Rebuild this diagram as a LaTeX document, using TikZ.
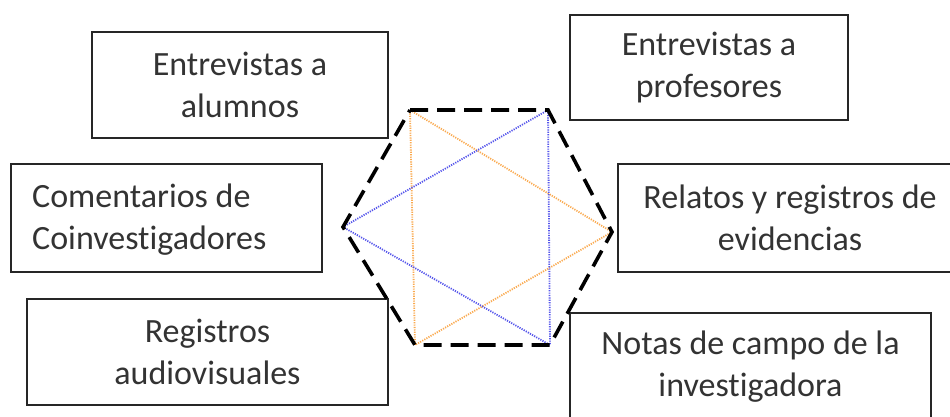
\documentclass[tikz,border=0pt]{standalone}
\usepackage{fontspec}
\setmainfont{Carlito}[Ligatures=NoCommon]
\begin{document}
\begin{tikzpicture}[x=1pt,y=-1pt,
  box/.style={draw=black!85, line width=1.8pt, inner sep=0pt, text=black!80,
    font=\fontsize{34}{42}\selectfont, align=center},
  hexline/.style={draw=black, line width=3.6pt, dash pattern=on 18pt off 9pt},
  otri/.style={draw={rgb,255:red,250;green,170;blue,80}, line width=1.8pt, dash pattern=on 1.2pt off 1.2pt},
  btri/.style={draw={rgb,255:red,85;green,85;blue,235}, line width=1.8pt, dash pattern=on 1.2pt off 1.2pt}]
\useasboundingbox (0,0) rectangle (950,416);
\clip (0,0) rectangle (950,416);
% boxes
\node[box, minimum width=296pt, minimum height=106pt] (alu) at (240,85) {Entrevistas a\\alumnos};
\node[box, minimum width=311pt, minimum height=108pt] (com) at (166.5,218) {};
\node[font=\fontsize{34}{42}\selectfont, text=black!80, align=left, anchor=west, inner sep=0pt] (comt) at (32,220) {Comentarios de\\Coinvestigadores};
\node[box, minimum width=361pt, minimum height=106pt] (reg) at (207.5,352) {Registros\\audiovisuales};
\node[box, minimum width=278pt, minimum height=105pt] (pro) at (709,67.5) {Entrevistas a\\profesores};
\node[box, minimum width=344pt, minimum height=108pt] (rel) at (790,218) {Relatos y registros de\\evidencias};
\node[box, minimum width=361pt, minimum height=107pt] (not) at (750.5,366.5) {Notas de campo de la\\investigadora};
% hexagon vertices
\coordinate (TL) at (410,110);
\coordinate (TR) at (548,110);
\coordinate (R) at (612,232);
\coordinate (BR) at (550,345);
\coordinate (BL) at (415,345);
\coordinate (L) at (343,227);
% triangles
\draw[otri] (TL) -- (R) -- (BL) -- cycle;
\draw[btri] (TR) -- (L) -- (BR) -- cycle;
% hexagon
\draw[hexline] (TL) -- (TR) -- (R) -- (BR) -- (BL) -- (L) -- cycle;
\end{tikzpicture}
\end{document}
